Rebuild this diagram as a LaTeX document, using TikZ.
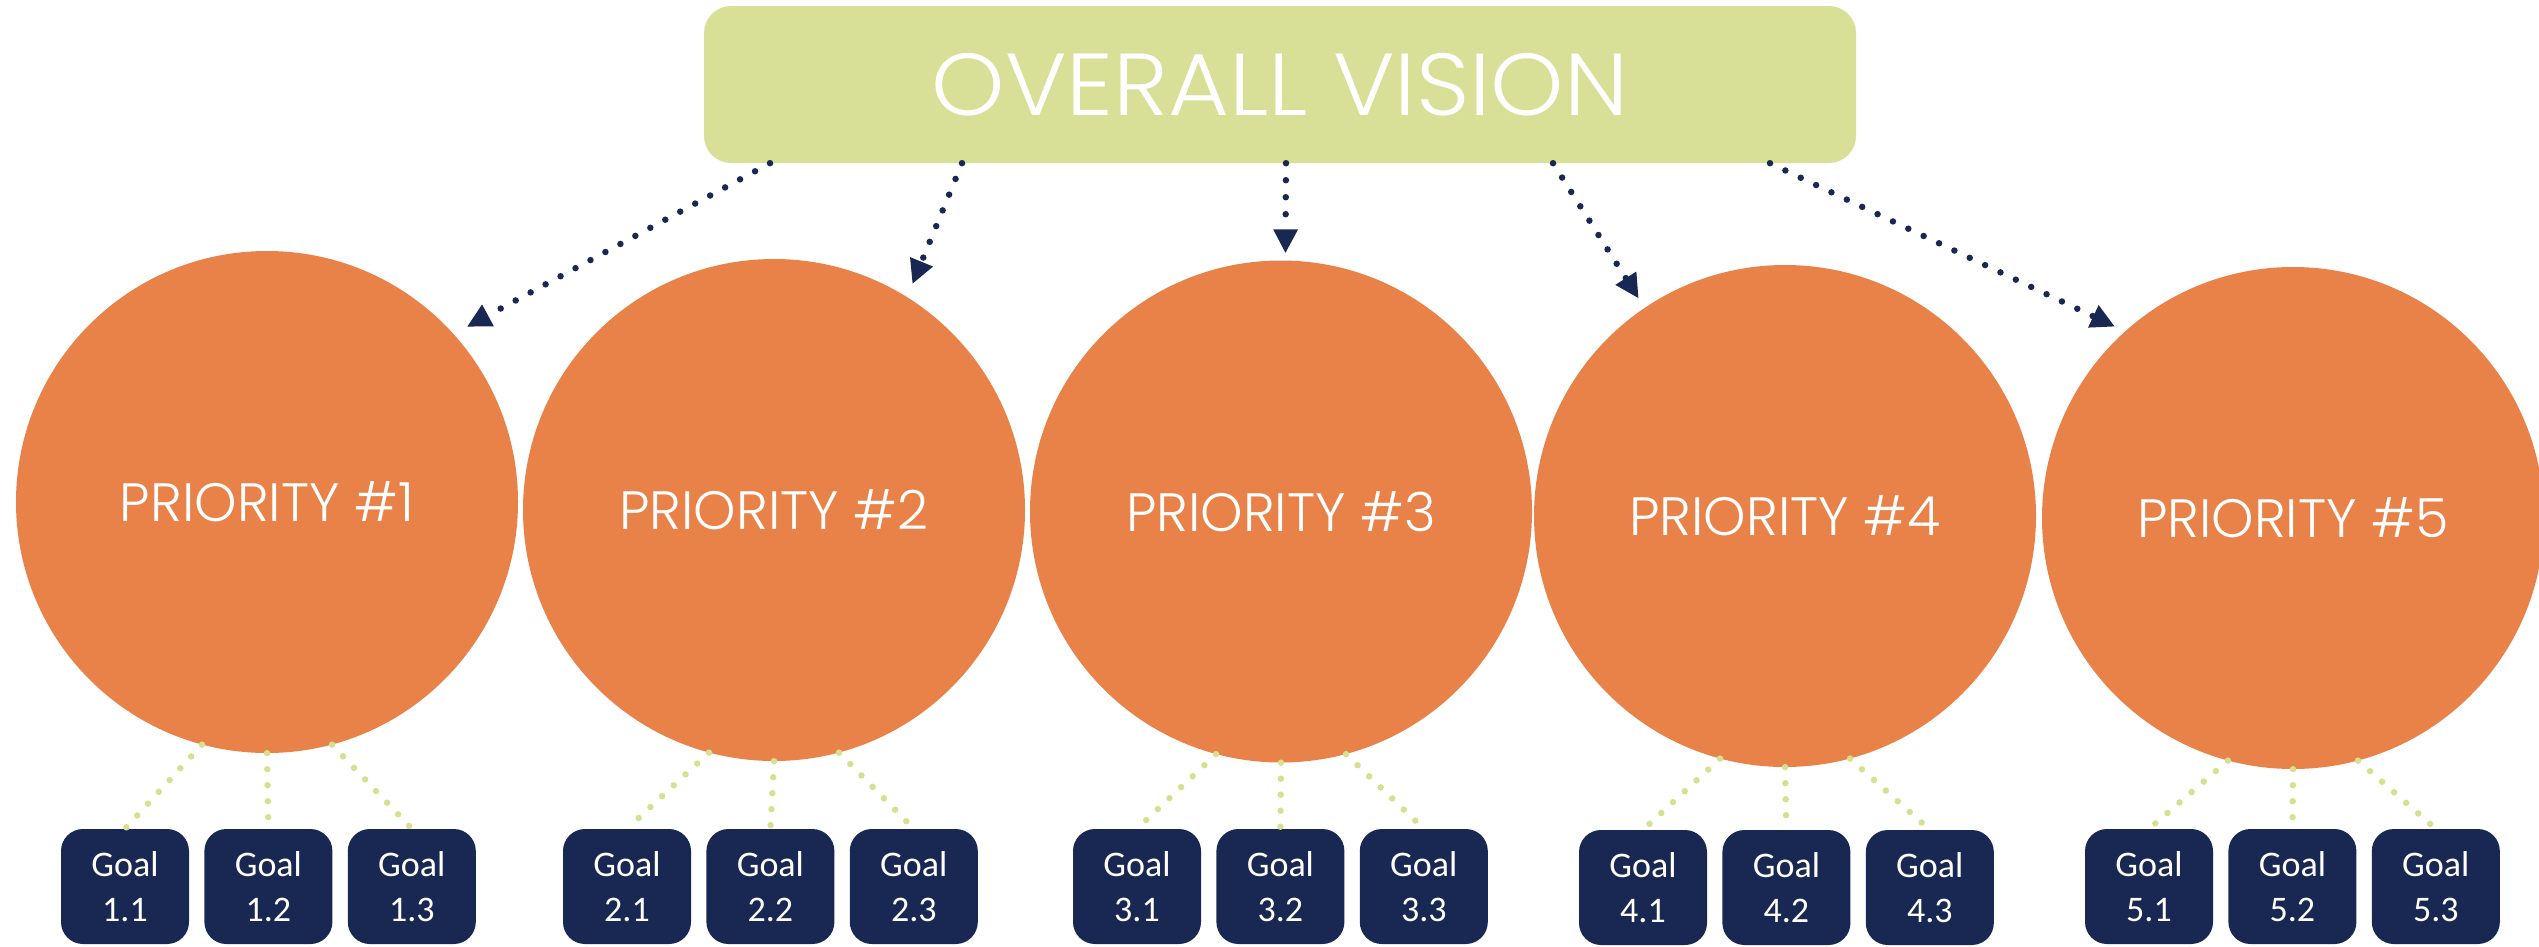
\documentclass[tikz,border=0pt]{standalone}
\usepackage{fontspec}
\setmainfont{Carlito}
\newfontfamily\visionfont{Poppins Light}[FakeStretch=1.06]
\newfontfamily\priofont{Poppins Light}
\usetikzlibrary{arrows.meta,shapes,positioning}
\definecolor{pvgreen}{RGB}{216,223,150}
\definecolor{pvorange}{RGB}{233,130,73}
\definecolor{pvnavy}{RGB}{24,40,82}
\definecolor{pvdots}{RGB}{214,224,144}
\tikzstyle{visarrow} = [pvnavy, line width=6.5pt, line cap=round,
    dash pattern=on 0pt off 17pt, -{Triangle[length=24pt,width=23pt]}]
\tikzstyle{goalline} = [pvdots, line width=6.5pt, line cap=round,
    dash pattern=on 0pt off 16pt]
\tikzstyle{visionbox} = [rectangle, rounded corners=27pt, minimum width=1152pt,
    minimum height=157pt, fill=pvgreen, text=white, font=\visionfont\fontsize{88}{92}\selectfont]
\tikzstyle{prionode} = [circle, minimum size=502pt, inner sep=0pt,
    fill=pvorange, text=white, font=\priofont\fontsize{54}{60}\selectfont]
\tikzstyle{goalbox} = [rectangle, rounded corners=22pt, minimum width=128pt,
    minimum height=115pt, inner sep=0pt, fill=pvnavy, text=white, align=center,
    font=\fontsize{36}{45}\selectfont]

\begin{document}
\begin{tikzpicture}[x=1pt, y=-1pt, node distance=15pt]
\useasboundingbox (0,0) rectangle (2539,946);
\node[visionbox] (vision) at (1280,84.5) {OVERALL VISION};
% priorities
\node[prionode] (p1) at (267,502) {PRIORITY \#1};
\node[prionode] (p2) at (774,510) {PRIORITY \#2};
\node[prionode] (p3) at (1281,511.5) {PRIORITY \#3};
\node[prionode] (p4) at (1785,516) {PRIORITY \#4};
\node[prionode] (p5) at (2293,518) {PRIORITY \#5};
% goals
\node[goalbox] (g11) at (125,886.5) {Goal\\1.1};
\node[goalbox, right=of g11] (g12) {Goal\\1.2};
\node[goalbox, right=of g12] (g13) {Goal\\1.3};
\node[goalbox] (g21) at (627,886.5) {Goal\\2.1};
\node[goalbox, right=of g21] (g22) {Goal\\2.2};
\node[goalbox, right=of g22] (g23) {Goal\\2.3};
\node[goalbox] (g31) at (1137,886.5) {Goal\\3.1};
\node[goalbox, right=of g31] (g32) {Goal\\3.2};
\node[goalbox, right=of g32] (g33) {Goal\\3.3};
\node[goalbox] (g41) at (1643,887.5) {Goal\\4.1};
\node[goalbox, right=of g41] (g42) {Goal\\4.2};
\node[goalbox, right=of g42] (g43) {Goal\\4.3};
\node[goalbox] (g51) at (2149,886.5) {Goal\\5.1};
\node[goalbox, right=of g51] (g52) {Goal\\5.2};
\node[goalbox, right=of g52] (g53) {Goal\\5.3};
% vision to priorities
\draw[visarrow, shorten >=15pt] ([xshift=-510pt]vision.south) -- (p1.42);
\draw[visarrow, shorten >=14pt] ([xshift=-318pt]vision.south) -- (p2.58);
\draw[visarrow, shorten >=7pt] ([xshift=6pt]vision.south) -- (p3.89);
\draw[visarrow, shorten >=11pt] ([xshift=273pt]vision.south) -- (p4.124);
\draw[visarrow, shorten >=11pt] ([xshift=490pt]vision.south) -- (p5.132);
% priorities to goals
\draw[goalline] (p1.255) -- (g11.north);
\draw[goalline] (p1.south) -- (g12.north);
\draw[goalline] (p1.285) -- (g13.north);
\draw[goalline] (p2.255) -- (g21.north);
\draw[goalline] (p2.south) -- (g22.north);
\draw[goalline] (p2.285) -- (g23.north);
\draw[goalline] (p3.255) -- (g31.north);
\draw[goalline] (p3.south) -- (g32.north);
\draw[goalline] (p3.285) -- (g33.north);
\draw[goalline] (p4.255) -- (g41.north);
\draw[goalline] (p4.south) -- (g42.north);
\draw[goalline] (p4.285) -- (g43.north);
\draw[goalline] (p5.255) -- (g51.north);
\draw[goalline] (p5.south) -- (g52.north);
\draw[goalline] (p5.285) -- (g53.north);
\end{tikzpicture}
\end{document}
